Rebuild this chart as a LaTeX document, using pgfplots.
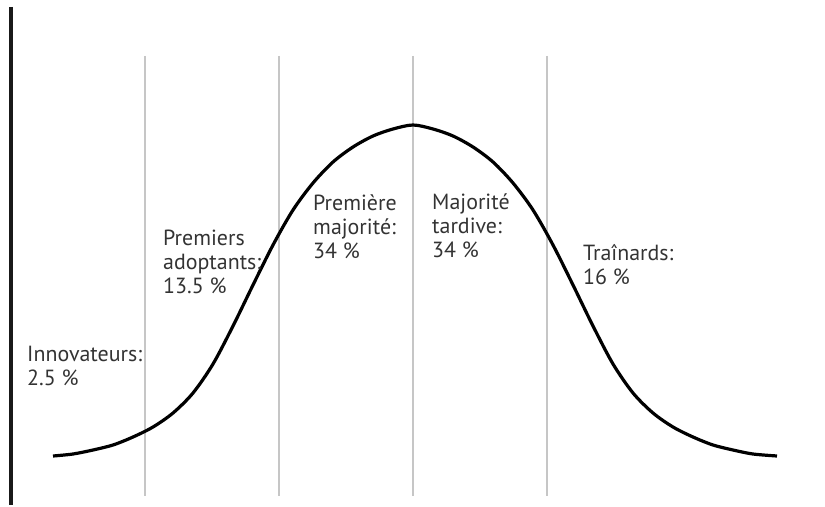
\documentclass[border=0pt]{standalone}
\usepackage{pgfplots}
\pgfplotsset{compat=1.18}
\usepackage{fontspec}
\setmainfont{PT Sans}
\definecolor{guide}{HTML}{C6C6C6}
\definecolor{txt}{HTML}{333333}
% multi-line labels are anchored at the baseline of their last line
\tikzset{lab/.style={anchor=base west, font=\fontsize{22}{24}\selectfont, text=txt, align=left, inner sep=0pt}}
\begin{document}
\begin{tikzpicture}
\begin{axis}[
  width=825bp, height=505bp, scale only axis,
  xmin=0, xmax=825, ymin=0, ymax=505, y dir=reverse,
  hide axis, clip=false,
]
% canvas extent
\path (axis cs:0,0) rectangle (axis cs:825,505);
% left vertical rule
\addplot[black!90, line width=4bp] coordinates {(11,7) (11,505)};
% standard-deviation guides
\addplot[guide, line width=2.6bp] coordinates {(145,56) (145,496)};
\addplot[guide, line width=2.6bp] coordinates {(279,56) (279,496)};
\addplot[guide, line width=2.6bp] coordinates {(413,56) (413,496)};
\addplot[guide, line width=2.6bp] coordinates {(547,56) (547,496)};
% adoption curve
\addplot[black, line width=3.2bp, smooth] coordinates {
  (53,456) (73,454) (93,450) (113,445) (133,437) (153,427) (173,413)
  (193,393) (213,364) (233,326) (253,285) (273,245) (293,210) (313,183)
  (333,162) (353,147) (373,136) (393,129) (413,125) (433,129) (453,136)
  (473,147) (493,162) (513,183) (533,210) (553,245) (573,285) (593,326)
  (613,364) (633,393) (653,413) (673,427) (693,437) (713,445) (733,450)
  (753,454) (777,456)
};
% category labels
\node[lab] at (axis cs:27,385) {Innovateurs:\\2.5 \%};
\node[lab] at (axis cs:163,293) {Premiers\\adoptants:\\13.5 \%};
\node[lab] at (axis cs:313,258) {Première\\majorité:\\34 \%};
\node[lab] at (axis cs:432,257) {Majorité\\tardive:\\34 \%};
\node[lab] at (axis cs:583,284) {Traînards:\\16 \%};
\end{axis}
\end{tikzpicture}
\end{document}
